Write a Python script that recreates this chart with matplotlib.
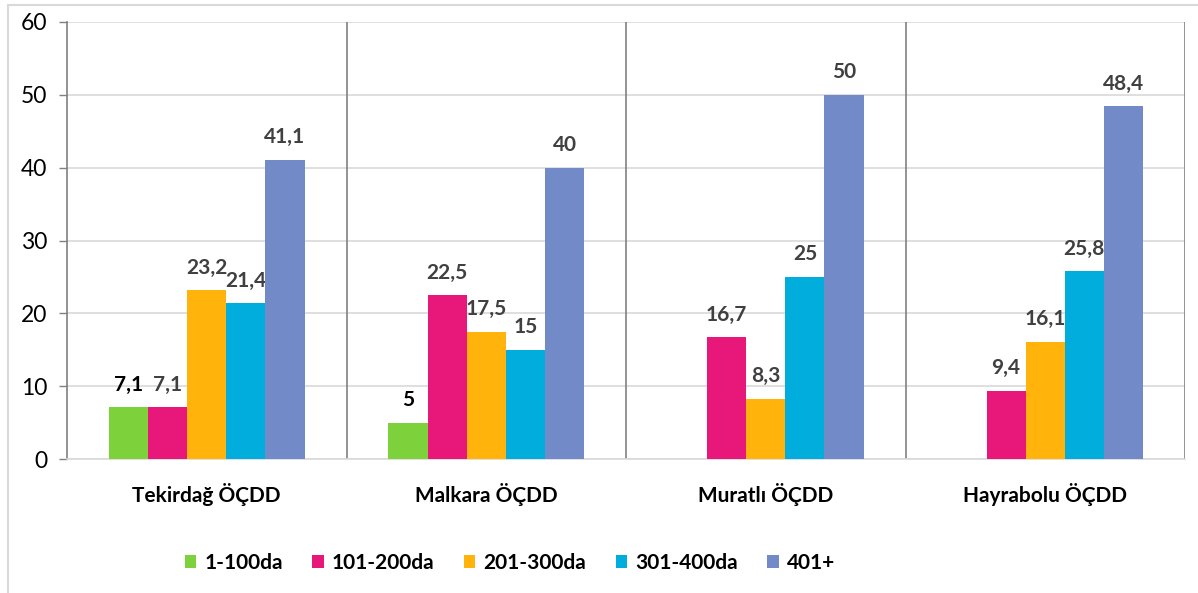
import numpy as np
import matplotlib
matplotlib.use("Agg")
import matplotlib.pyplot as plt
from matplotlib.patches import Rectangle

categories = ["Tekirdağ ÖÇDD", "Malkara ÖÇDD", "Muratlı ÖÇDD", "Hayrabolu ÖÇDD"]
series_names = ["1-100da", "101-200da", "201-300da", "301-400da", "401+"]
v_1_100 = [7.1, 5.0, np.nan, np.nan]
v_101_200 = [7.1, 22.5, 16.7, 9.4]
v_201_300 = [23.2, 17.5, 8.3, 16.1]
v_301_400 = [21.4, 15.0, 25.0, 25.8]
v_401 = [41.1, 40.0, 50.0, 48.4]
series_values = [v_1_100, v_101_200, v_201_300, v_301_400, v_401]
colors = ["#7DD13B", "#E8177A", "#FFB30B", "#00ADDC", "#728AC7"]
label_colors = ["#000000", "#404040", "#404040", "#404040", "#404040"]

plt.rcParams['font.family'] = ['Lato', 'DejaVu Sans']

fig = plt.figure(figsize=(11.98, 5.93), dpi=100)
fig.patches.append(Rectangle((8/1198, -0.1), 1.2, (593-5)/593 + 0.1,
                             transform=fig.transFigure, fill=False,
                             edgecolor="#d9d9d9", linewidth=1.5))
ax = fig.add_axes([67/1198, (593-459)/593, (1185-67)/1198, (459-22)/593])

x = np.arange(len(categories))
w = 0.14
for i, (name, vals, c, lc) in enumerate(zip(series_names, series_values, colors, label_colors)):
    pos = x + (i - 2) * w
    vals = np.array(vals, dtype=float)
    ax.bar(pos, vals, width=w, color=c, label=name, zorder=3)
    for p, v in zip(pos, vals):
        if np.isnan(v):
            continue
        txt = f"{v:g}".replace(".", ",")
        ax.annotate(txt, (p, v), xytext=(0, 9), textcoords="offset points",
                    ha="center", va="bottom", fontsize=15, fontweight="bold",
                    color=lc)

ax.set_xlim(-0.5, len(categories) - 0.5)
ax.set_ylim(0, 60)
ax.set_yticks(np.arange(0, 61, 10))
ax.tick_params(axis="y", labelsize=16.5, length=6, color="#808080", width=1, pad=8)
ax.grid(axis="y", color="#d9d9d9", linewidth=1.2, zorder=0)
ax.set_axisbelow(True)
ax.set_xticks(x)
ax.set_xticklabels(categories, fontsize=15, fontweight="bold")
ax.tick_params(axis="x", length=0, pad=17)
for sep in np.arange(0.5, len(categories), 1.0):
    ax.axvline(sep, color="#808080", linewidth=1.2, zorder=2)
ax.spines["top"].set_visible(False)
ax.spines["right"].set_visible(False)
ax.spines["left"].set_color("#808080")
ax.spines["left"].set_linewidth(1.2)
ax.spines["bottom"].set_color("#d9d9d9")
ax.spines["bottom"].set_linewidth(1.2)

leg = fig.legend(loc="center", bbox_to_anchor=(510/1198, 1 - 563/593), ncol=5,
                 frameon=False, prop={"weight": "bold", "size": 15},
                 handlelength=0.55, handleheight=0.55, handletextpad=0.4,
                 columnspacing=1.4)

fig.savefig("out.png", dpi=100)
